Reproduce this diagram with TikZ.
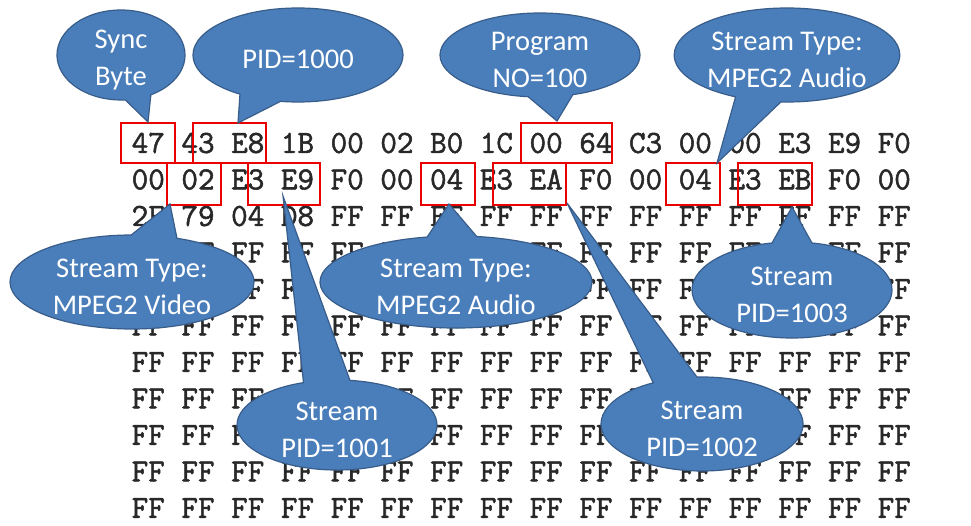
\documentclass[tikz,border=0pt]{standalone}
\usepackage{fontspec}
\usetikzlibrary{shapes.callouts,shapes.geometric}
\newfontfamily\calfont{Carlito}
\newfontfamily\hexfont[FakeBold=1.6]{Latin Modern Mono}
\definecolor{cblue}{RGB}{74,126,187}
\definecolor{cborder}{RGB}{56,93,138}
\definecolor{hexgray}{RGB}{40,40,40}
\definecolor{boxred}{RGB}{235,0,0}
\tikzset{
  hexrow/.style={anchor=west,inner sep=0pt,text=hexgray,font=\hexfont\fontsize{32.19}{34}\selectfont},
  redbox/.style={draw=boxred,line width=2.6pt,inner sep=0pt},
  bubble/.style={ellipse callout,fill=cblue,draw=cborder,line width=1.2pt,text=white,
    font=\calfont\fontsize{28.5}{37.5}\selectfont,align=center,inner xsep=0pt,inner ysep=-12pt,
    callout pointer arc=25},
  twoline/.style={text height=66pt},
  oneline/.style={text height=28pt}
}
\begin{document}
\begin{tikzpicture}[x=1pt,y=-1pt]
\useasboundingbox[fill=white] (0,0) rectangle (971,526);
% hex dump rows
\node[hexrow] (r1) at (131.5,143.0) {47 43 E8 1B 00 02 B0 1C 00 64 C3 00 00 E3 E9 F0};
\node[hexrow] (r2) at (131.5,179.5) {00 02 E3 E9 F0 00 04 E3 EA F0 00 04 E3 EB F0 00};
\node[hexrow] (r3) at (131.5,216.0) {2F 79 04 D8 FF FF FF FF FF FF FF FF FF FF FF FF};
\node[hexrow] (r4) at (131.5,252.5) {FF FF FF FF FF FF FF FF FF FF FF FF FF FF FF FF};
\node[hexrow] (r5) at (131.5,289.0) {FF FF FF FF FF FF FF FF FF FF FF FF FF FF FF FF};
\node[hexrow] (r6) at (131.5,325.5) {FF FF FF FF FF FF FF FF FF FF FF FF FF FF FF FF};
\node[hexrow] (r7) at (131.5,362.0) {FF FF FF FF FF FF FF FF FF FF FF FF FF FF FF FF};
\node[hexrow] (r8) at (131.5,398.5) {FF FF FF FF FF FF FF FF FF FF FF FF FF FF FF FF};
\node[hexrow] (r9) at (131.5,435.0) {FF FF FF FF FF FF FF FF FF FF FF FF FF FF FF FF};
\node[hexrow] (r10) at (131.5,471.5) {FF FF FF FF FF FF FF FF FF FF FF FF FF FF FF FF};
\node[hexrow] (r11) at (131.5,508.0) {FF FF FF FF FF FF FF FF FF FF FF FF FF FF FF FF};
% red boxes
\node[redbox,minimum width=54pt,minimum height=40pt] (b1) at (148,143) {};
\node[redbox,minimum width=73pt,minimum height=40pt] (b2) at (229.5,143) {};
\node[redbox,minimum width=91pt,minimum height=40pt] (b3) at (566.5,143) {};
\node[redbox,minimum width=54pt,minimum height=42pt] (b4) at (194,184) {};
\node[redbox,minimum width=72pt,minimum height=42pt] (b5) at (284,184) {};
\node[redbox,minimum width=54pt,minimum height=42pt] (b6) at (448,184) {};
\node[redbox,minimum width=73pt,minimum height=42pt] (b7) at (529.5,184) {};
\node[redbox,minimum width=54pt,minimum height=42pt] (b8) at (693,184) {};
\node[redbox,minimum width=74pt,minimum height=42pt] (b9) at (775,184) {};
% pointer tips
\coordinate (p1) at (148,122);
\coordinate (p2) at (238,123);
\coordinate (p3) at (557,121);
\coordinate (p4) at (717,163);
\coordinate (p5) at (170,204);
\coordinate (p6) at (283,196);
\coordinate (p7) at (449,204);
\coordinate (p8) at (567,203);
\coordinate (p9) at (792,207);
% callouts
\node[bubble,twoline,minimum width=128pt,minimum height=90pt,callout absolute pointer={(p1)},callout pointer arc=24] (c1) at (121,55) {Sync\\Byte};
\node[bubble,oneline,minimum width=210pt,minimum height=94pt,callout absolute pointer={(p2)},callout pointer arc=24] (c2) at (298,55) {PID=1000};
\node[bubble,twoline,minimum width=200pt,minimum height=84pt,callout absolute pointer={(p3)},callout pointer arc=26] (c3) at (540,55) {Program\\NO=100};
\node[bubble,twoline,minimum width=220pt,minimum height=94pt,callout absolute pointer={(p4)},callout pointer arc=24] (c4) at (787,55) {Stream Type:\\MPEG2 Audio};
\node[bubble,twoline,minimum width=244pt,minimum height=94pt,callout absolute pointer={(p5)},callout pointer arc=22] (c5) at (132,282) {Stream Type:\\MPEG2 Video};
\node[bubble,twoline,minimum width=272pt,minimum height=92pt,callout absolute pointer={(p7)},callout pointer arc=21] (c7) at (456,282) {Stream Type:\\MPEG2 Audio};
\node[bubble,twoline,minimum width=200pt,minimum height=96pt,callout absolute pointer={(p9)},callout pointer arc=23] (c9) at (792,290) {Stream\\PID=1003};
\node[bubble,twoline,minimum width=200pt,minimum height=90pt,callout absolute pointer={(p6)},callout pointer arc=27] (c6) at (337,425) {Stream\\PID=1001};
\node[bubble,twoline,minimum width=202pt,minimum height=94pt,callout absolute pointer={(p8)},callout pointer arc=26] (c8) at (702,424) {Stream\\PID=1002};
\end{tikzpicture}
\end{document}
